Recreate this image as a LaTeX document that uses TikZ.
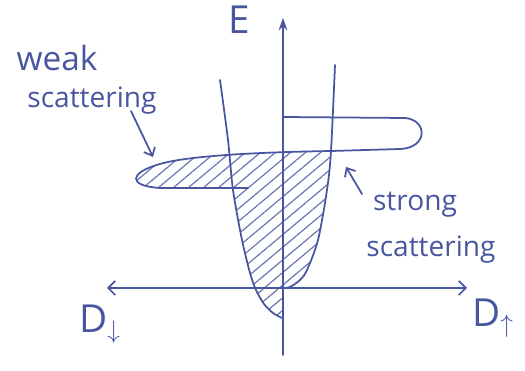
\documentclass[tikz,border=0pt]{standalone}
\usepackage{fontspec}
\setsansfont{Open Sans}
\usetikzlibrary{arrows.meta,patterns.meta}
\definecolor{penBlue}{RGB}{72, 86, 160}

\begin{document}
\begin{tikzpicture}[x=0.02cm, y=-0.02cm,
    ink/.style={penBlue, line width=1pt, line cap=round, line join=round},
    hand/.style={penBlue, font=\sffamily\fontsize{16}{18}\selectfont, inner sep=0pt},
    axislabel/.style={penBlue, font=\sffamily\fontsize{22}{24}\selectfont, inner sep=0pt}]
  \useasboundingbox (0,0) rectangle (525,371);

  % Hatched (occupied) states
  \fill[pattern={Lines[angle=40, distance=5.5pt, line width=0.7pt]}, pattern color=penBlue!80]
    (331,151) .. controls (270,152) and (190,155) .. (160,164)
    .. controls (128,173) and (128,186) .. (160,188) -- (233,189)
    -- plot[smooth] coordinates {(233,189) (242,240) (250,273) (256,290) (264,304) (273,313) (282,318)}
    -- (283,288)
    -- plot[smooth] coordinates {(284,288) (290,287) (300,280) (307,270) (318,240) (327,190) (331,151)}
    -- cycle;

  % Axes
  \coordinate (eBottom) at (283,355);
  \coordinate (eTop) at (283,18);
  \coordinate (dLeft) at (107,288);
  \coordinate (dRight) at (467,288);
  \draw[ink, -{Stealth[length=7pt, width=5pt]}] (eBottom) -- (eTop);
  \draw[ink, {Straight Barb[length=4pt, width=8pt]}-{Straight Barb[length=4pt, width=8pt]}] (dLeft) -- (dRight);

  % Density of states, spin down (left) and spin up (right)
  \draw[ink] plot[smooth] coordinates {(220,80) (228,140) (233,190) (242,240) (250,273) (256,290) (264,304) (273,313) (282,318)};
  \draw[ink] plot[smooth] coordinates {(284,288) (290,287) (300,280) (307,270) (318,240) (327,190) (331,151) (335,65)};

  % Broadened bands
  \draw[ink] (284,117) -- (405,118) .. controls (428,120) and (428,148) .. (400,149)
    -- (331,151) .. controls (270,152) and (190,155) .. (160,164)
    .. controls (128,173) and (128,186) .. (160,188) -- (248,188);

  % Labels
  \node[axislabel] (eLabel) at (239,20) {E};
  \node[axislabel] (dDown) at (100,324) {D$_\downarrow$};
  \node[axislabel] (dUp) at (493,318) {D$_\uparrow$};
  \node[hand, font=\sffamily\fontsize{19}{21}\selectfont] (weakLabel) at (57,58) {weak};
  \node[hand] (weakScat) at (92,101) {scattering};
  \node[hand] (strongLabel) at (415,205) {strong};
  \node[hand] (strongScat) at (431,250) {scattering};

  % Pointers
  \coordinate (weakFrom) at (131,111);
  \coordinate (weakTo) at (153,157);
  \coordinate (strongFrom) at (362,194);
  \coordinate (strongTo) at (346,167);
  \draw[ink, -{Straight Barb[length=4pt, width=7pt]}] (weakFrom) -- (weakTo);
  \draw[ink, -{Straight Barb[length=4pt, width=7pt]}] (strongFrom) -- (strongTo);
\end{tikzpicture}
\end{document}
